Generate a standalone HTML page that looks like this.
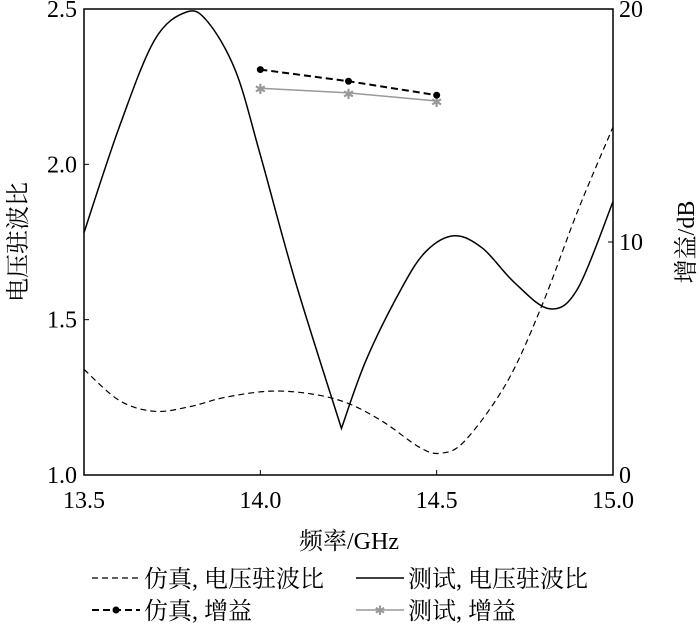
<!DOCTYPE html>
<html><head><meta charset="utf-8"><style>
body{margin:0;background:#fff}
svg{display:block;font-family:"Liberation Serif","Noto Serif CJK SC",serif}
</style></head><body>
<svg id="c" width="700" height="624" viewBox="0 0 700 624"></svg>
<script>
const freqTicks=[13.5,14.0,14.5,15.0];
const vswrTicks=[1.0,1.5,2.0,2.5];
const gainTicks=[0,10,20];
const simVswrF=[13.5,13.6,13.7,13.8,13.9,14.03,14.15,14.25,14.35,14.45,14.51,14.58,14.7,14.8,14.9,15.0];
const simVswr=[1.34,1.24,1.205,1.22,1.25,1.27,1.26,1.23,1.17,1.09,1.07,1.11,1.3,1.55,1.85,2.12];
const testVswrF=[13.5,13.6,13.7,13.79,13.85,13.93,14.0,14.1,14.23,14.3,14.4,14.47,14.55,14.63,14.72,14.82,14.9,15.0];
const testVswr=[1.78,2.12,2.40,2.49,2.46,2.30,2.03,1.62,1.15,1.37,1.60,1.72,1.77,1.73,1.62,1.535,1.6,1.88];
const gainF=[14.0,14.25,14.5];
const simGain=[17.4,16.9,16.3];
const testGain=[16.6,16.4,16.05];
const L=84,R=613,T=9,B=475;
const X=f=>L+(f-13.5)/1.5*(R-L);
const Y=v=>B-(v-1)/1.5*(B-T);
const YG=g=>B-g/20*(B-T);
const svg=document.getElementById('c');
const NS='http://www.w3.org/2000/svg';
function mk(t,a,p){const e=document.createElementNS(NS,t);for(const k in a)e.setAttribute(k,a[k]);(p||svg).appendChild(e);return e;}
function txt(s,x,y,a){const e=mk('text',Object.assign({x:x,y:y,'font-size':24,fill:'#000'},a||{}));e.textContent=s;return e;}
function smooth(xs,ys){const p=xs.map((x,i)=>[X(x),Y(ys[i])]);let d='M'+p[0][0]+','+p[0][1];
for(let i=0;i<p.length-1;i++){const p0=p[Math.max(0,i-1)],p1=p[i],p2=p[i+1],p3=p[Math.min(p.length-1,i+2)];
const c1=[p1[0]+(p2[0]-p0[0])/6,p1[1]+(p2[1]-p0[1])/6],c2=[p2[0]-(p3[0]-p1[0])/6,p2[1]-(p3[1]-p1[1])/6];
d+=' C'+c1+' '+c2+' '+p2;}return d;}
const fr=mk('rect',{x:L,y:T,width:R-L,height:B-T,fill:'none',stroke:'#000','stroke-width':1.5});

freqTicks.forEach(f=>{mk('line',{x1:X(f),x2:X(f),y1:B,y2:B-5,stroke:'#000'});
const t=txt(f.toFixed(1),X(f),508,{'text-anchor':'middle'});});
vswrTicks.forEach(v=>{mk('line',{x1:L,x2:L+5,y1:Y(v),y2:Y(v),stroke:'#000'});
const t=txt(v.toFixed(1),77,Y(v)+8,{'text-anchor':'end'});});
gainTicks.forEach(g=>{mk('line',{x1:R,x2:R-5,y1:YG(g),y2:YG(g),stroke:'#000'});
const t=txt(String(g),619,YG(g)+8,{'text-anchor':'start'});});
let t=txt('频率/GHz',349,549,{'text-anchor':'middle','font-size':24});
t=txt('电压驻波比',0,0,{'text-anchor':'middle','font-size':24,transform:'translate(26,242) rotate(-90)'});
t=txt('增益/dB',0,0,{'text-anchor':'middle','font-size':24,transform:'translate(694,242) rotate(-90)'});
let s=mk('path',{d:smooth(simVswrF,simVswr),fill:'none',stroke:'#000','stroke-width':1.2,'stroke-dasharray':'6,4'});

let mi=0;testVswr.forEach((v,i)=>{if(v<testVswr[mi])mi=i;});
s=mk('path',{d:smooth(testVswrF.slice(0,mi+1),testVswr.slice(0,mi+1))+' '+smooth(testVswrF.slice(mi),testVswr.slice(mi)).replace('M','L'),fill:'none',stroke:'#000','stroke-width':1.5});

s=mk('polyline',{points:gainF.map((f,i)=>X(f)+','+YG(testGain[i])).join(' '),fill:'none',stroke:'#999','stroke-width':1.5});

gainF.forEach((f,i)=>{const m=mk('text',{x:X(f),y:YG(testGain[i])+6,'text-anchor':'middle','font-size':14,fill:'#999'});m.textContent='✱';
});
s=mk('polyline',{points:gainF.map((f,i)=>X(f)+','+YG(simGain[i])).join(' '),fill:'none',stroke:'#000','stroke-width':2,'stroke-dasharray':'7,4'});

gainF.forEach((f,i)=>{const m=mk('circle',{cx:X(f),cy:YG(simGain[i]),r:3.5,fill:'#000'});
});
function leg(x,y,label,dash,col,w,mark,name){const g=mk('g',{});
const a={x1:x,x2:x+48,y1:y,y2:y,stroke:col,'stroke-width':w};if(dash)a['stroke-dasharray']=dash;mk('line',a,g);
if(mark==='dot')mk('circle',{cx:x+24,cy:y,r:3.5,fill:'#000'},g);
if(mark==='star'){const m=mk('text',{x:x+24,y:y+5,'text-anchor':'middle','font-size':13,fill:'#999'},g);m.textContent='✱';}
const tt=mk('text',{x:x+52,y:y+9,'font-size':24,fill:'#000'},g);tt.textContent=label;}
leg(92,578,'仿真, 电压驻波比','6,4','#000',1.2,null,'legend-sim-vswr');
leg(356,578,'测试, 电压驻波比',null,'#000',1.5,null,'legend-test-vswr');
leg(92,610,'仿真, 增益','7,4','#000',2,'dot','legend-sim-gain');
leg(356,610,'测试, 增益',null,'#999',1.5,'star','legend-test-gain');
</script>
</body></html>
